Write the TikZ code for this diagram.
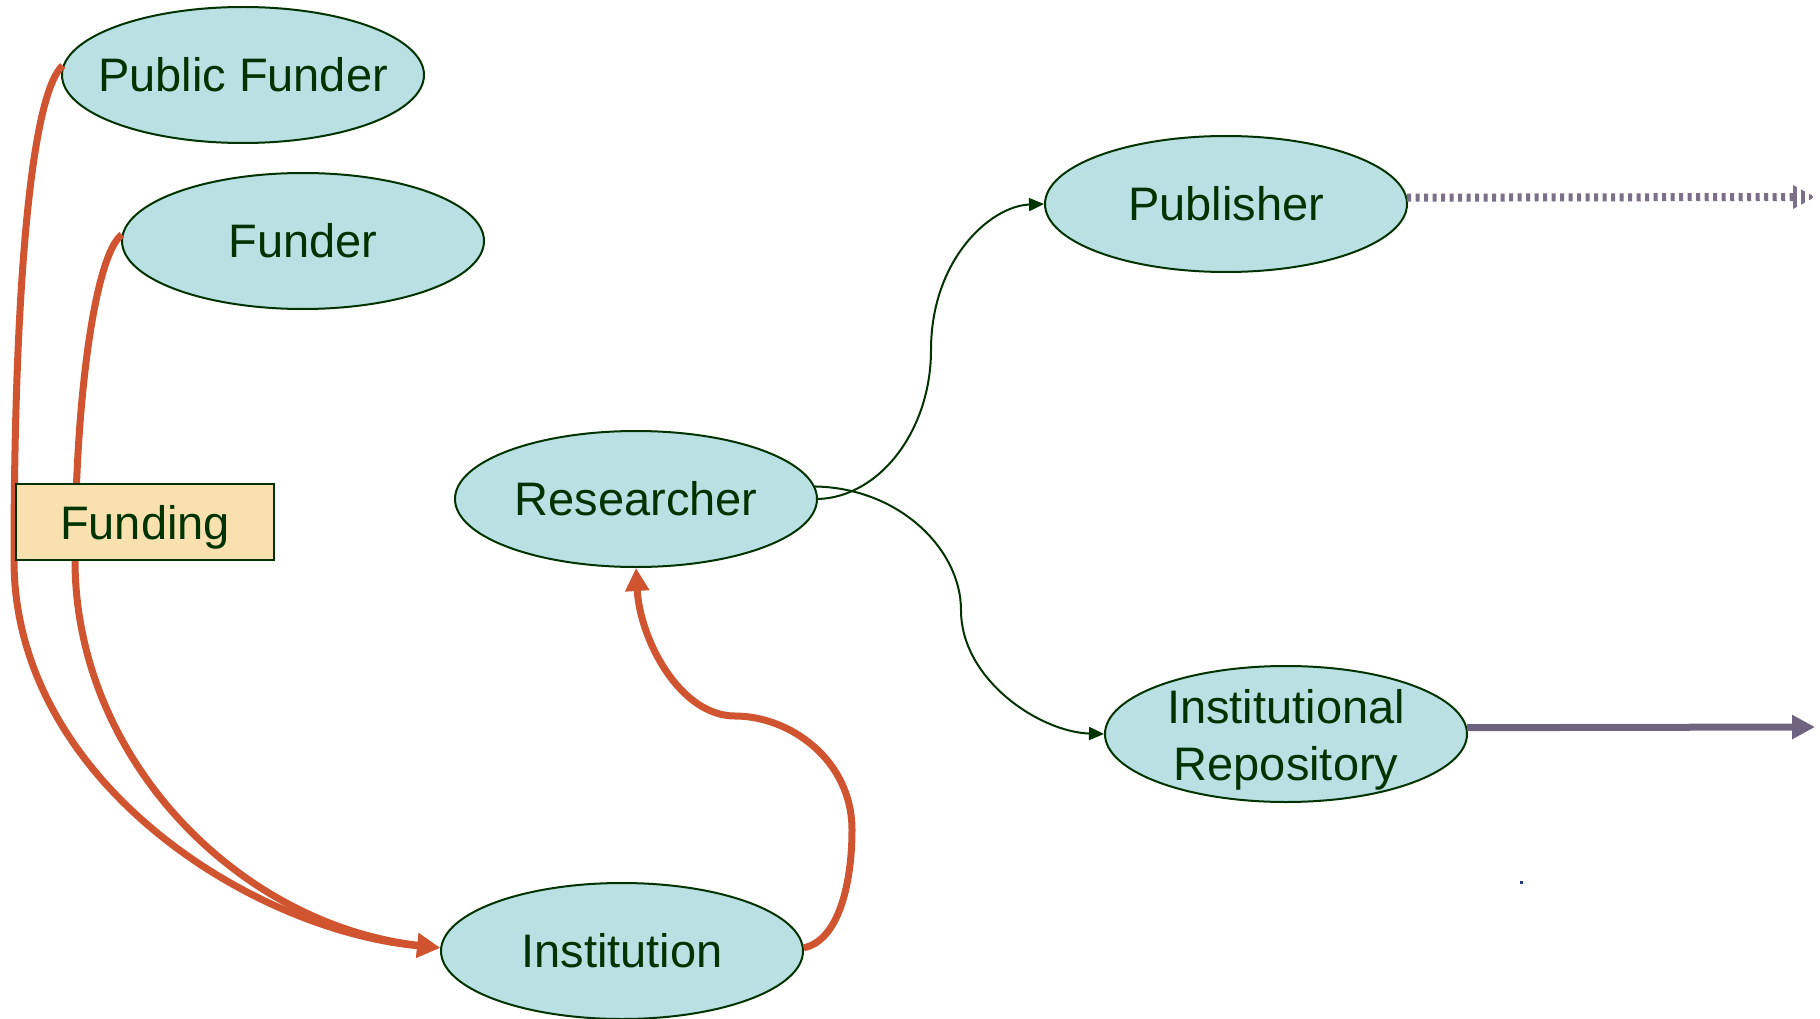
\documentclass[tikz,border=0pt]{standalone}
\usepackage{fontspec}
\setmainfont{Liberation Sans}
\usetikzlibrary{arrows.meta,shapes.geometric}
\definecolor{ellfill}{RGB}{185,224,227}
\definecolor{dkgreen}{RGB}{0,51,0}
\definecolor{fundred}{RGB}{208,84,48}
\definecolor{boxfill}{RGB}{248,225,174}
\definecolor{outgray}{RGB}{110,100,128}
\definecolor{dotgray}{RGB}{123,111,138}
\definecolor{straydot}{RGB}{30,60,130}
\begin{document}
\begin{tikzpicture}[x=1pt,y=-1pt,
  ent/.style={ellipse, draw=dkgreen, line width=2pt, fill=ellfill,
    minimum width=362pt, minimum height=136pt, inner sep=0pt},
  lbl/.style={text=dkgreen, font=\fontsize{47}{57}\selectfont, align=center, inner sep=0pt},
  fundline/.style={draw=fundred, line width=7pt, -{Triangle[length=23pt,width=23pt]}},
  blkline/.style={draw=dkgreen, line width=2pt, -{Triangle[length=15pt,width=13pt]}},
  outline/.style={draw=outgray, line width=7pt, -{Triangle[length=23pt,width=23pt]}},
  dotline/.style={draw=dotgray, line width=8pt, dash pattern=on 4pt off 4.5pt},
  fundbox/.style={rectangle, draw=dkgreen, line width=2pt, fill=boxfill,
    minimum width=258pt, minimum height=76pt, inner sep=0pt, text=dkgreen,
    font=\fontsize{47}{57}\selectfont, text height=34pt, text depth=0pt}
]
\useasboundingbox (0,0) rectangle (1820,1019);

% entities
\node[ent, label={[lbl]center:Public Funder}] (pf) at (243,75) {};
\node[ent, label={[lbl]center:Funder}] (fu) at (303,241) {};
\node[ent, label={[lbl]center:Publisher}] (pub) at (1226,204) {};
\node[ent, label={[lbl]center:Researcher}] (re) at (636,499) {};
\node[ent, label={[lbl,yshift=-6pt]center:{Institutional\\Repository}}] (rep) at (1286,734) {};
\node[ent, label={[lbl]center:Institution}] (inst) at (622,951) {};

\coordinate (pubout) at (1793,197);
\coordinate (pubtip) at (1815,197);
\coordinate (repout) at (1815,727);

% funding flows
\draw[fundline] (pf.177.5) .. controls (30,95) and (14,300) .. (14,560)
  .. controls (14,780) and (250,930) .. (inst.179);
\draw[fundline] (fu.178) .. controls (95,255) and (75,400) .. (75,560)
  .. controls (75,760) and (240,925) .. (inst.179);
\draw[fundline] (inst.1.5) .. controls (840,940) and (852,880) .. (852,830)
  .. controls (852,760) and (790,716) .. (735,716)
  .. controls (680,716) and (640,640) .. (re.south);

% researcher outputs
\draw[blkline] (re.east) .. controls (880,497) and (931,430) .. (931,350)
  .. controls (931,260) and (990,206) .. (pub.west);
\draw[blkline] (re.4.5) .. controls (900,488) and (961,550) .. (961,610)
  .. controls (961,680) and (1040,732) .. (rep.west);

% onward flows
\draw[dotline] (pub.2.2) -- (pubout);
\begin{scope}
  \clip (1793,185) -- (1815,197) -- (1793,209) -- cycle;
  \draw[draw=dotgray, line width=26pt, dash pattern=on 4pt off 4pt] (pubout) -- (pubtip);
\end{scope}
\draw[outline] (rep.2.2) -- (repout);

% funding label box (drawn over the flows)
\node[fundbox] (fund) at (145,522) {Funding};

% stray mark
\fill[straydot] (1520,881) rectangle (1523,884);
\end{tikzpicture}
\end{document}
